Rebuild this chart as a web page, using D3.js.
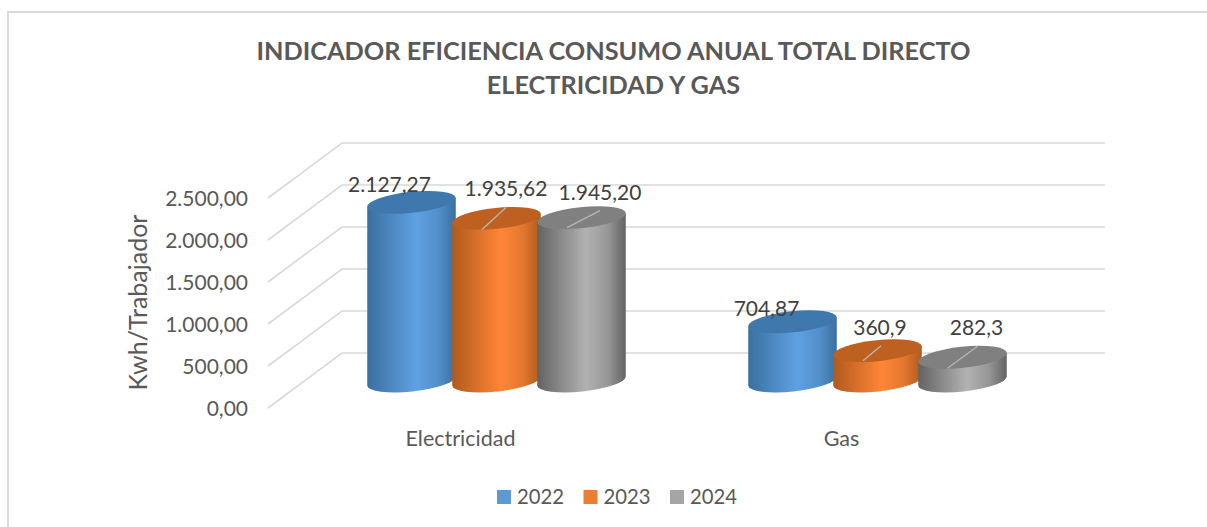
<!DOCTYPE html>
<html>
<head>
<meta charset="utf-8">
<script src="https://cdn.jsdelivr.net/npm/d3@7"></script>
<style>
  html, body { margin: 0; padding: 0; background: #fff; overflow: hidden; }
  text { font-family: Lato, "Open Sans", sans-serif; }
</style>
</head>
<body>
<div id="chart"></div>
<script>
// chart values
var categories = ["Electricidad", "Gas"];
var years = ["2022", "2023", "2024"];
var values2022 = [2127.27, 704.87];
var values2023 = [1935.62, 360.9];
var values2024 = [1945.20, 282.3];
var labels2022 = ["2.127,27", "704,87"];
var labels2023 = ["1.935,62", "360,9"];
var labels2024 = ["1.945,20", "282,3"];
var yTicks = [0, 500, 1000, 1500, 2000, 2500];

var seriesValues = [values2022, values2023, values2024];
var seriesLabels = [labels2022, labels2023, labels2024];

var svgWidth = 1207;
var svgHeight = 527;

// colours per series: flat (legend), cylinder edge, cylinder highlight, cap
var flatColors = ["#5b9bd5", "#ed7d31", "#a5a5a5"];
var edgeColors = ["#3b6f9f", "#b05a1e", "#636363"];
var lightColors = ["#5ea1e2", "#ff8636", "#b2b2b2"];
var capColors = ["#3f78ac", "#bd6020", "#808080"];

// label nudges from the top of each cylinder, [category][series]
var labelNudge = [
  [[-22, -10], [9.5, -22], [18.5, -18]],
  [[-26, -6], [2.5, -16], [14, -22]]
];
// leader line ends from the top of each cylinder, null = no leader
var leaderNudge = [
  [null, [-14.5, 11, 9.5, -11], [-14.5, 10, 18.5, -7]],
  [null, [-14.5, 10, 3.5, -5], [-15, 11, 15, -11]]
];

var svg = d3.select("#chart")
  .append("svg")
  .attr("width", svgWidth)
  .attr("height", svgHeight);

// frame, only left and top show in the picture
svg.append("path")
  .attr("d", "M8,527V12H1207")
  .attr("fill", "none")
  .attr("stroke", "#d9d9d9")
  .attr("stroke-width", 2);

// title
var title = svg.append("text")
  .attr("text-anchor", "middle")
  .attr("font-weight", 700)
  .attr("font-size", 25.3)
  .attr("fill", "#595959");
title.append("tspan").attr("x", 613.5).attr("y", 60)
  .text("INDICADOR EFICIENCIA CONSUMO ANUAL TOTAL DIRECTO");
title.append("tspan").attr("x", 613.5).attr("y", 94)
  .text("ELECTRICIDAD Y GAS");

// three y scales for the 3D box: front edge, bar plane, back wall
var yFront = d3.scaleLinear().domain([0, 2500]).range([408, 198]);
var yBar = d3.scaleLinear().domain([0, 2500]).range([381, 171]);
var yBack = d3.scaleLinear().domain([0, 2500]).range([353, 143]);

var x0 = d3.scaleBand().domain(categories).range([306, 1068]);
var x1 = d3.scaleBand().domain(years).range([-127.5, 127.5]);

var floorX = 268;
var wallX = 342;
var wallEnd = 1105;

// gridlines
svg.append("g").selectAll("path")
  .data(yTicks)
  .enter()
  .append("path")
  .attr("d", d => `M${floorX},${yFront(d)}L${wallX},${yBack(d)}H${wallEnd}`)
  .attr("fill", "none")
  .attr("stroke", "#d9d9d9")
  .attr("stroke-width", 1.6);

// y axis, labels only
var esLocale = d3.formatLocale({ decimal: ",", thousands: ".", grouping: [3], currency: ["", ""] });
var leftAxis = d3.axisLeft(yFront)
  .tickValues(yTicks)
  .tickFormat(esLocale.format(",.2f"))
  .tickSize(0)
  .tickPadding(0);
var yAxis = svg.append("g")
  .attr("transform", "translate(248,1)")
  .call(leftAxis);
yAxis.select(".domain").remove();
yAxis.selectAll("text")
  .attr("font-size", 21)
  .attr("fill", "#595959")
  .style("font-family", "Lato");

svg.append("text")
  .attr("transform", "translate(147,302.5) rotate(-90)")
  .attr("text-anchor", "middle")
  .attr("font-size", 25)
  .attr("fill", "#595959")
  .text("Kwh/Trabajador");

// category labels sit left of the bars because of the perspective
svg.append("g").selectAll("text")
  .data(categories)
  .enter()
  .append("text")
  .attr("x", d => x0(d) + x0.bandwidth() / 2 - 36)
  .attr("y", 446)
  .attr("text-anchor", "middle")
  .attr("font-size", 21.5)
  .attr("fill", "#595959")
  .text(d => d);

// cylinder gradients
var defs = svg.append("defs");
years.forEach(function(year, i) {
  var grad = defs.append("linearGradient").attr("id", "cyl" + year);
  grad.append("stop").attr("offset", "0%").attr("stop-color", edgeColors[i]);
  grad.append("stop").attr("offset", "55%").attr("stop-color", lightColors[i]);
  grad.append("stop").attr("offset", "80%").attr("stop-color", d3.interpolateRgb(lightColors[i], edgeColors[i])(0.35));
  grad.append("stop").attr("offset", "100%").attr("stop-color", edgeColors[i]);
});

var rx = 44.5;
var ry = 10.5;
var tilt = -6;
var rad = tilt * Math.PI / 180;
var ex = rx * Math.cos(rad);
var ey = rx * Math.sin(rad);

// flatten to one record per cylinder
var bars = [];
categories.forEach(function(cat, c) {
  years.forEach(function(year, s) {
    bars.push({
      c: c, s: s, year: year,
      cx: x0(cat) + x0.bandwidth() / 2 + x1(year) + x1.bandwidth() / 2,
      top: yBar(seriesValues[s][c]),
      base: yBar(0),
      label: seriesLabels[s][c]
    });
  });
});

var cyl = svg.append("g").selectAll("g")
  .data(bars)
  .enter()
  .append("g");

cyl.append("path")
  .attr("d", function(d) {
    return `M${d.cx - ex},${d.top - ey}` +
      `L${d.cx - ex},${d.base - ey}` +
      `A${rx},${ry} ${tilt} 0 0 ${d.cx + ex},${d.base + ey}` +
      `L${d.cx + ex},${d.top + ey}Z`;
  })
  .attr("fill", d => `url(#cyl${d.year})`);

cyl.append("ellipse")
  .attr("rx", rx)
  .attr("ry", ry)
  .attr("transform", d => `translate(${d.cx},${d.top}) rotate(${tilt})`)
  .attr("fill", d => capColors[d.s]);

// leader lines then data labels, on top of all cylinders
svg.append("g").selectAll("line")
  .data(bars.filter(d => leaderNudge[d.c][d.s]))
  .enter()
  .append("line")
  .attr("x1", d => d.cx + leaderNudge[d.c][d.s][0])
  .attr("y1", d => d.top + leaderNudge[d.c][d.s][1])
  .attr("x2", d => d.cx + leaderNudge[d.c][d.s][2])
  .attr("y2", d => d.top + leaderNudge[d.c][d.s][3])
  .attr("stroke", "#b5b5b5")
  .attr("stroke-width", 1.4);

svg.append("g").selectAll("text")
  .data(bars)
  .enter()
  .append("text")
  .attr("x", d => d.cx + labelNudge[d.c][d.s][0])
  .attr("y", d => d.top + labelNudge[d.c][d.s][1])
  .attr("text-anchor", "middle")
  .attr("font-size", 21)
  .attr("fill", "#404040")
  .text(d => d.label);

// legend
var legendX = d3.scalePoint().domain(years).range([497, 670]);
var legend = svg.append("g").selectAll("g")
  .data(years)
  .enter()
  .append("g")
  .attr("transform", d => `translate(${legendX(d)},490)`);
legend.append("rect")
  .attr("width", 14)
  .attr("height", 14)
  .attr("fill", (d, i) => flatColors[i]);
legend.append("text")
  .attr("x", 20)
  .attr("y", 13.5)
  .attr("font-size", 20.3)
  .attr("fill", "#595959")
  .text(d => d);
</script>
</body>
</html>
